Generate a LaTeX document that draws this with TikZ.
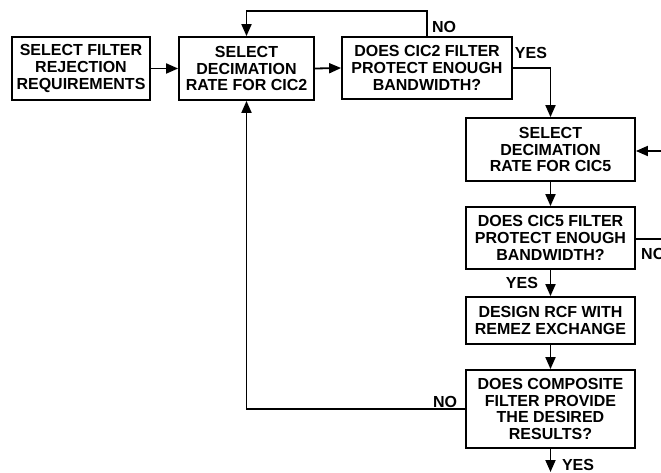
\documentclass[tikz,border=0pt]{standalone}
\usepackage{fontspec}
\setmainfont{Liberation Sans}
\usetikzlibrary{arrows.meta}
\tikzset{
  box/.style={draw, line width=1.8pt, align=center, inner sep=0pt,
    font=\bfseries\fontsize{16}{16.7}\selectfont},
  lbl/.style={inner sep=0pt, font=\bfseries\fontsize{16}{16.7}\selectfont},
  conn/.style={line width=1.8pt},
  arr/.style={conn, -{Triangle[length=12pt,width=10pt]}}
}
\begin{document}
\begin{tikzpicture}[x=1pt,y=-1pt]
\useasboundingbox (0,0) rectangle (661,473);
\node[box, minimum width=138pt, minimum height=63pt] (b1) at (81,68.5) {SELECT FILTER\\REJECTION\\REQUIREMENTS};
\node[box, minimum width=135pt, minimum height=63pt] (b2) at (246.5,68.5) {SELECT\\DECIMATION\\RATE FOR CIC2};
\node[box, minimum width=170pt, minimum height=62pt] (b3) at (427,68) {DOES CIC2 FILTER\\PROTECT ENOUGH\\BANDWIDTH?};
\node[box, minimum width=169pt, minimum height=63pt] (b4) at (550.5,149.5) {SELECT\\DECIMATION\\RATE FOR CIC5};
\node[box, minimum width=169pt, minimum height=62pt] (b5) at (550.5,238) {DOES CIC5 FILTER\\PROTECT ENOUGH\\BANDWIDTH?};
\node[box, minimum width=169pt, minimum height=47pt] (b6) at (550.5,320.5) {DESIGN RCF WITH\\REMEZ EXCHANGE};
\node[box, minimum width=169pt, minimum height=78pt] (b7) at (550.5,409) {DOES COMPOSITE\\FILTER PROVIDE\\THE DESIRED\\RESULTS?};

\coordinate (rin) at (690,151);
\coordinate (rout) at (690,239);
\coordinate (bend) at (550.5,472);

\draw[arr] (b1.east) -- (b2.west);
\draw[arr] (b2.east) -- (b3.west);
\draw[arr] (b3.north) -- ++(0,-25) -| (b2.north);
\draw[arr] (b3.east) -| (b4.north);
\draw[arr] (rin) -- (b4.east |- rin);
\draw[arr] (b4.south) -- (b5.north);
\draw[conn] (b5.east |- rout) -- (rout);
\draw[arr] (b5.south) -- (b6.north);
\draw[arr] (b6.south) -- (b7.north);
\draw[arr] (b7.west) -| (b2.south);
\draw[arr] (b7.south) -- (bend);

\node[lbl] (no1) at (444,27) {NO};
\node[lbl] (yes1) at (531,53) {YES};
\node[lbl, anchor=west] (no2) at (641,254) {NO};
\node[lbl] (yes2) at (522,283) {YES};
\node[lbl] (no3) at (445,402) {NO};
\node[lbl] (yes3) at (578,465) {YES};
\end{tikzpicture}
\end{document}
